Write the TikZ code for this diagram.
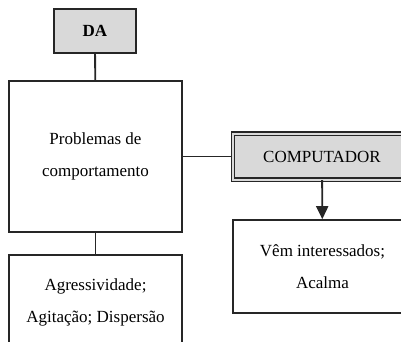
\documentclass[tikz,border=0pt]{standalone}
\usepackage{fontspec}
\setmainfont{Liberation Serif}
\usetikzlibrary{arrows.meta,positioning}

\begin{document}
\begin{tikzpicture}[
    x=1pt, y=-1pt,
    box/.style={rectangle,draw=black!85,line width=1.6pt,fill=white,align=center,
                inner sep=0pt,font=\fontsize{17}{32}\selectfont},
    headbox/.style={box,fill=black!15},
    dblbox/.style={box,fill=black!15,double=black!15,double distance=2pt,line width=1.1pt},
    link/.style={line width=1.8pt,draw=black!85}
]
    \useasboundingbox (0,0) rectangle (401,342);
    \clip (0,0) rectangle (401,342);

    \node[headbox,minimum width=82pt,minimum height=44pt] (da) at (95,31) {\textbf{DA}};
    \node[box,minimum width=173pt,minimum height=151pt] (prob) at (95.5,156.5)
        {Problemas de\\comportamento};
    \node[box,minimum width=173pt,minimum height=94pt] (agress) at (95.5,302)
        {Agressividade;\\Agitação; Dispersão};
    \node[dblbox,minimum width=178pt,minimum height=46pt] (comp) at (322,156.5) {COMPUTADOR};
    \node[box,minimum width=179pt,minimum height=93pt] (vem) at (322.5,266.5)
        {Vêm interessados;\\Acalma};

    \draw[link] (da) -- (prob);
    \draw[link] (prob) -- (agress);
    \draw[link] (prob) -- (comp);
    \draw[link,-{Triangle[length=13pt,width=12pt]}] (comp) -- (vem);
\end{tikzpicture}
\end{document}
